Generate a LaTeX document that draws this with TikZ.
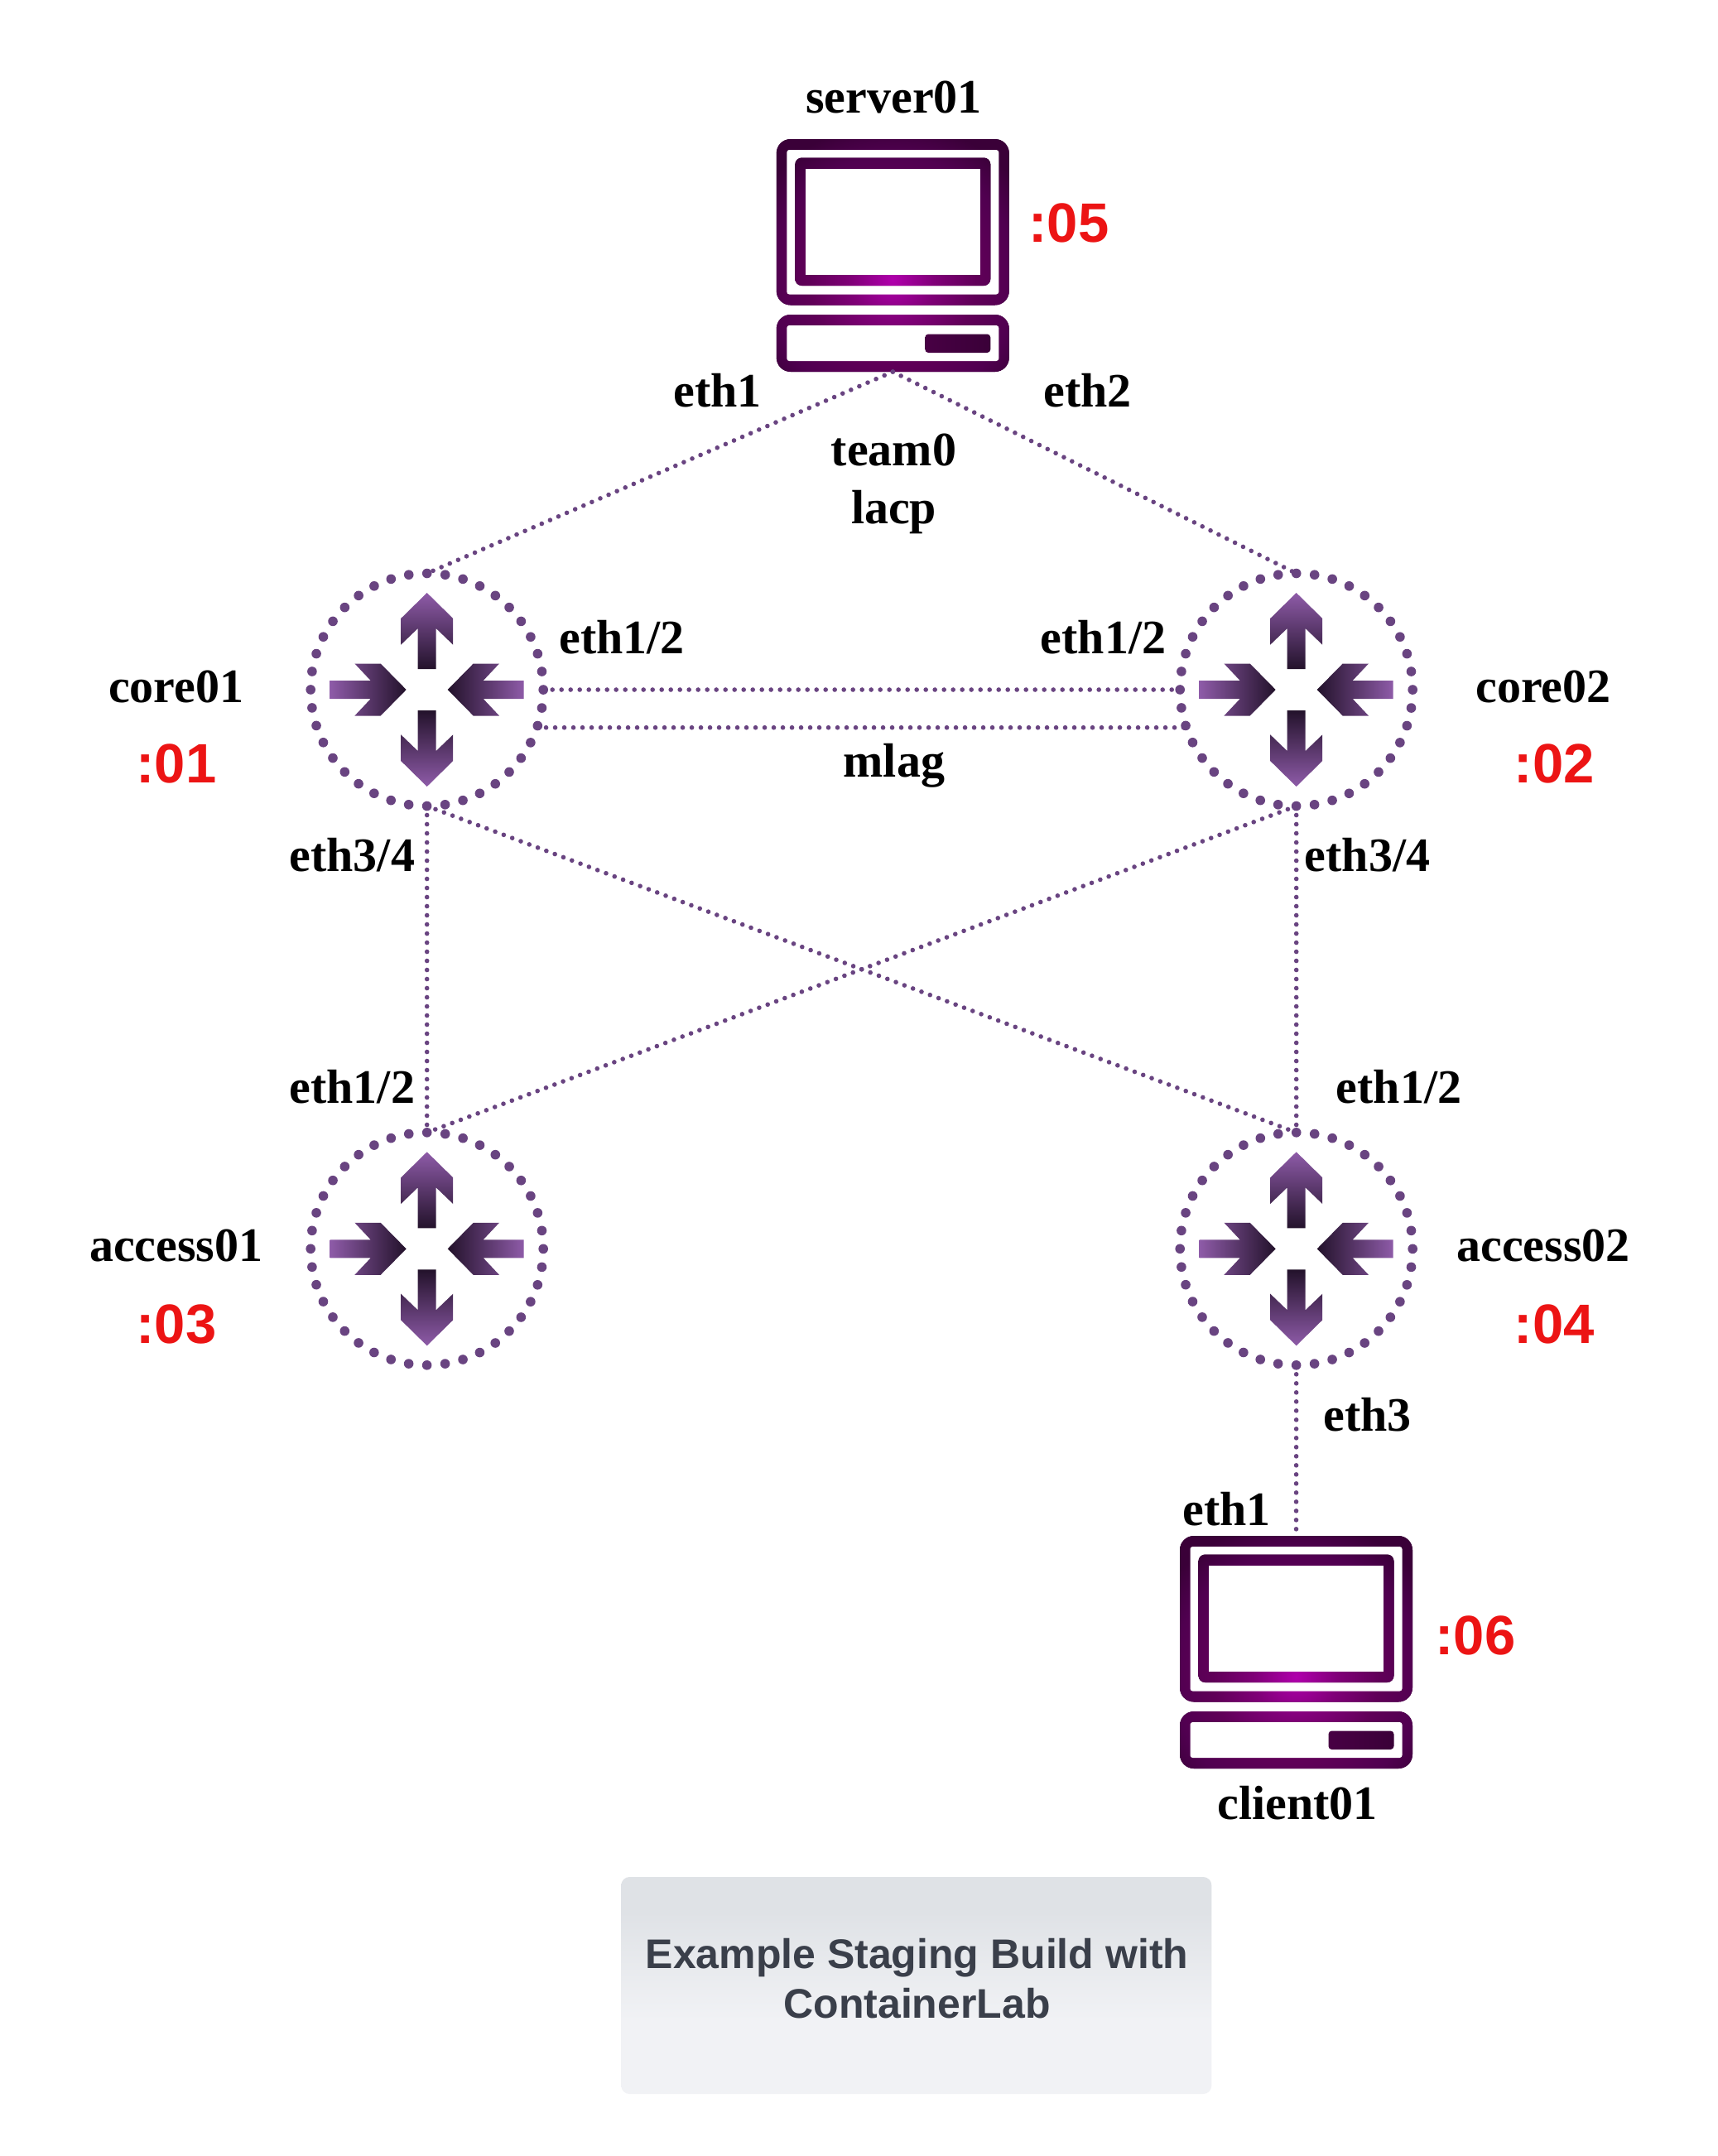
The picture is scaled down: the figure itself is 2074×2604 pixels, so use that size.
\documentclass[tikz,border=0pt]{standalone}
\usepackage{fontspec}
\setmainfont{Liberation Serif}
\setsansfont{Liberation Sans}
\definecolor{linkc}{HTML}{694481}
\definecolor{arrL}{HTML}{8E5BA8}
\definecolor{arrD}{HTML}{23122B}
\definecolor{monA}{HTML}{B000AC}
\definecolor{monB}{HTML}{800078}
\definecolor{monC}{HTML}{600058}
\definecolor{monE}{HTML}{500050}
\definecolor{monD}{HTML}{3A0038}
\definecolor{btnL}{HTML}{480044}
\definecolor{redc}{HTML}{EC1414}
\definecolor{boxT}{HTML}{DFE2E6}
\definecolor{boxB}{HTML}{F1F2F5}
\definecolor{titlec}{HTML}{3A3F4A}
\pgfdeclareradialshading{monshade}{\pgfpointorigin}{color(0bp)=(monA); color(5.7bp)=(monB); color(11.4bp)=(monC); color(17bp)=(monE); color(21.6bp)=(monD); color(50bp)=(monD)}
\pgfdeclareverticalshading{boxshade}{100bp}{color(0bp)=(boxB); color(42bp)=(boxB); color(67bp)=(boxT); color(100bp)=(boxT)}
\tikzset{
  x=.5pt,y=-.5pt,
  routernode/.style={circle,minimum size=140.5pt,inner sep=0pt,outer sep=0pt,draw=linkc,line width=5.8pt,line cap=round,dash pattern=on 0pt off 11.035pt},
  pcnode/.style={rectangle,minimum width=140.5pt,minimum height=140.5pt,inner sep=0pt,outer sep=0pt},
  link/.style={draw=linkc,line width=2.8pt,line cap=round,dash pattern=on 0pt off 5.5pt},
  lab/.style={font=\fontsize{29}{35}\selectfont\bfseries,text=black,align=center,inner sep=0pt,anchor=base},
  redlab/.style={font=\sffamily\fontsize{33.5}{38}\selectfont\bfseries,text=redc,inner sep=0pt,anchor=base},
  titlebox/.style={rectangle,rounded corners=5pt,minimum width=356.5pt,minimum height=131pt,shade,shading=boxshade,inner sep=0pt,outer sep=0pt},
  titletext/.style={font=\sffamily\fontsize{25}{30}\selectfont\bfseries,text=titlec,align=center,inner sep=0pt},
}
% arrow icons, drawn around the centre of a router node
\newcommand{\routericon}[2]{%
  \begin{scope}[shift={(#1,#2)}]
    \path[top color=arrL,bottom color=arrD] (0,-117)--(31.5,-86)--(31.5,-54.3)--(11,-74)--(11,-25)--(-11,-25)--(-11,-74)--(-31.5,-54.3)--(-31.5,-86)--cycle;
    \path[top color=arrD,bottom color=arrL] (0,117)--(31.5,86)--(31.5,54.3)--(11,74)--(11,25)--(-11,25)--(-11,74)--(-31.5,54.3)--(-31.5,86)--cycle;
    \path[left color=arrL,right color=arrD] (-25,0)--(-56,-31.5)--(-87.3,-31.5)--(-68,-11)--(-117,-11)--(-117,11)--(-68,11)--(-87.3,31.5)--(-56,31.5)--cycle;
    \path[left color=arrD,right color=arrL] (25,0)--(56,-31.5)--(87.3,-31.5)--(68,-11)--(117,-11)--(117,11)--(68,11)--(87.3,31.5)--(56,31.5)--cycle;
  \end{scope}}
\newcommand{\monfill}{\fill[monD] (-150,-10) rectangle (150,300);\shade[shading=monshade] (0,170) circle (220);}
% computer icon: #1 = centre x, #2 = top y
\newcommand{\pcicon}[2]{%
  \begin{scope}[shift={(#1,#2)}]
    \begin{scope}
      \clip[rounded corners=8.5pt] (-140.5,0) rectangle (140.5,200.5);
      \monfill
    \end{scope}
    \begin{scope}
      \clip[rounded corners=8.5pt] (-140.5,212) rectangle (140.5,281);
      \monfill
    \end{scope}
    \fill[white,rounded corners=1.5pt] (-128,13) rectangle (128,187.5);
    \begin{scope}
      \clip[rounded corners=4pt] (-118,22.5) rectangle (118,177);
      \monfill
    \end{scope}
    \fill[white] (-105.5,36) rectangle (105.5,164);
    \fill[white,rounded corners=1.5pt] (-128,225) rectangle (128,268);
    \path[left color=btnL,right color=monD,rounded corners=2pt] (39,235.5) rectangle (118,258);
  \end{scope}}
\begin{document}
\begin{tikzpicture}
\useasboundingbox (0,0) rectangle (2074,2604);
\fill[white] (0,0) rectangle (2074,2604);
% devices
\node[pcnode] (server01) at (1078.3,308.5) {};
\node[pcnode] (client01) at (1565.5,1995.5) {};
\node[routernode] (core01) at (515.7,833) {};
\node[routernode] (core02) at (1565.7,833) {};
\node[routernode] (access01) at (515.7,1508.3) {};
\node[routernode] (access02) at (1565.7,1508.3) {};
\routericon{515.7}{833}
\routericon{1565.7}{833}
\routericon{515.7}{1508.3}
\routericon{1565.7}{1508.3}
\pcicon{1078.3}{168}
\pcicon{1565.5}{1855}
% links
\draw[link] (server01.south) -- (core01.north);
\draw[link] (server01.south) -- (core02.north);
\draw[link] (core01.east) -- (core02.west);
\draw[link] (core01.-19.5) -- (core02.199.5);
\draw[link] (core01.south) -- (access01.north);
\draw[link] (core01.south) -- (access02.north);
\draw[link] (core02.south) -- (access01.north);
\draw[link] (core02.south) -- (access02.north);
\draw[link] (access02.south) -- (client01.north);
% names
\node[lab] (lserver) at (1079.6,136.7) {server01};
\node[lab] (lcore1) at (212.7,848) {core01};
\node[lab] (lcore2) at (1864,848) {core02};
\node[lab] (laccess1) at (212.7,1523) {access01};
\node[lab] (laccess2) at (1864,1523) {access02};
\node[lab] (lclient) at (1567,2197.6) {client01};
% ports
\node[lab] (p1) at (866.6,491) {eth1};
\node[lab] (p2) at (1313.6,491) {eth2};
\node[lab] (pteam) at (1079.6,562.6) {team0};
\node[lab] (placp) at (1079.6,632.6) {lacp};
\node[lab] (p3) at (751,789.6) {eth1/2};
\node[lab] (p4) at (1332.4,789.6) {eth1/2};
\node[lab] (pmlag) at (1079.8,938) {mlag};
\node[lab] (p5) at (425.3,1052) {eth3/4};
\node[lab] (p6) at (1651.4,1052) {eth3/4};
\node[lab] (p7) at (425.3,1332.4) {eth1/2};
\node[lab] (p8) at (1689.6,1332.4) {eth1/2};
\node[lab] (p9) at (1651.4,1728.4) {eth3};
\node[lab] (p10) at (1481.6,1842.6) {eth1};
% addresses
\node[redlab] (r1) at (213,945) {:01};
\node[redlab] (r2) at (1877.3,945) {:02};
\node[redlab] (r3) at (213,1622.5) {:03};
\node[redlab] (r4) at (1877.3,1622.5) {:04};
\node[redlab] (r5) at (1291,292) {:05};
\node[redlab] (r6) at (1782,1998) {:06};
% title
\node[titlebox] (tbox) at (1106.8,2398) {};
\node[titletext] (ttext) at (1107.5,2390) {Example Staging Build with\\ContainerLab};
\end{tikzpicture}
\end{document}
